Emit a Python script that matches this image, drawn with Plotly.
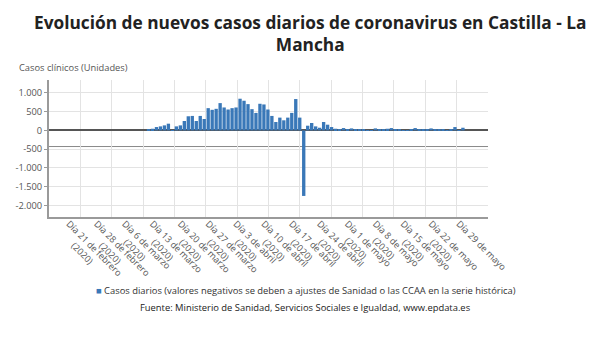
import plotly.graph_objects as go
import pandas as pd

# Datos: casos diarios desde el 12 de marzo de 2020
fecha_inicio = "2020-03-12"
casos = [27, 45, 90, 108, 135, 180, 10, 108, 135, 252, 378, 387, 252, 387, 306,
         595, 550, 577, 730, 613, 559, 595, 613, 847, 793, 703, 568, 468, 712, 694,
         559, 387, 225, 342, 270, 342, 468, 838, 342, -1750,
         126, 198, 108, 72, 225, 153, 90, 45, 27, 63, 36, 54, 36, 27, 27, 9, 9, 54,
         27, 27, 45, 63, 36, 27, 9, 9, 36, 63, 27, 27, 18, 54, 36, 36, 18, 9, 27,
         90, 9, 72]
fechas = pd.date_range(fecha_inicio, periods=len(casos), freq="D")

tick_fechas = ["2020-02-21", "2020-02-28", "2020-03-06", "2020-03-13", "2020-03-20",
               "2020-03-27", "2020-04-03", "2020-04-10", "2020-04-17", "2020-04-24",
               "2020-05-01", "2020-05-08", "2020-05-15", "2020-05-22", "2020-05-29"]
tick_linea1 = ["Día 21 de febrero", "Día 28 de febrero", "Día 6 de marzo",
               "Día 13 de marzo", "Día 20 de marzo", "Día 27 de marzo",
               "Día 3 de abril", "Día 10 de abril", "Día 17 de abril",
               "Día 24 de abril", "Día 1 de mayo", "Día 8 de mayo",
               "Día 15 de mayo", "Día 22 de mayo", "Día 29 de mayo"]
tick_linea2 = ["(2020)"] * 14 + [""]

y_ticks = [-2000, -1500, -1000, -500, 0, 500, 1000]
y_textos = ["-2.000", "-1.500", "-1.000", "-500", "0", "500", "1.000"]

titulo = "Evolución de nuevos casos diarios de coronavirus en Castilla - La<br>Mancha"
serie = "Casos diarios (valores negativos se deben a ajustes de Sanidad o las CCAA en la serie histórica)"
fuente = "Fuente: Ministerio de Sanidad, Servicios Sociales e Igualdad, www.epdata.es"
eje_y = "Casos clínicos (Unidades)"

FONT = "Open Sans"
GRIS = "#555555"
AZUL = "#3A78B8"

# second line of each tick label shifted under the middle of the first one (nbsp padding)
tick_textos = []
for l1, l2 in zip(tick_linea1, tick_linea2):
    if l2:
        pad = max(0, round((len(l1) * 4.3 - 28) / 2 / 2.9))
        tick_textos.append(l1 + "<br>" + "\u00a0" * pad + l2)
    else:
        tick_textos.append(l1)

dia = pd.Timedelta(days=1)
x0 = pd.Timestamp("2020-02-21")
x_range = [x0 - 5 * dia, x0 + 105.3 * dia]

L, R, T, B = 49, 122, 80, 141
W, H = 610, 358
PW, PH = W - L - R, H - T - B


def px(xp):
    return (xp - L) / PW


def py(yp):
    return (H - B - yp) / PH


fig = go.Figure()
fig.add_trace(go.Bar(x=fechas, y=casos, marker_color=AZUL, marker_line_width=0,
                     name=serie, showlegend=False))

fig.add_shape(type="line", xref="paper", x0=0, x1=1, yref="y", y0=-430, y1=-430,
              line=dict(color="#8a8a8a", width=1), layer="below")

fig.update_layout(
    width=W, height=H,
    margin=dict(l=L, r=R, t=T, b=B),
    paper_bgcolor="white", plot_bgcolor="white",
    bargap=0.16,
    font=dict(family=FONT, color=GRIS, size=9.3),
    showlegend=False,
    xaxis=dict(
        type="date", range=x_range, automargin=False,
        tickmode="array", tickvals=tick_fechas, ticktext=tick_textos,
        tickangle=45, tickfont=dict(family=FONT, size=9.1, color=GRIS),
        ticklabelstandoff=-4,
        showgrid=False, ticks="",
        showline=True, linecolor="#9a9a9a", linewidth=2,
        minor=dict(showgrid=True, gridcolor="#e3e3e3", gridwidth=1,
                   tick0=x0 - 5 * dia, dtick=7.88 * 86400000, ticks=""),
    ),
    yaxis=dict(
        range=[-2313, 1347], automargin=False,
        tickmode="array", tickvals=y_ticks, ticktext=y_textos,
        tickfont=dict(family=FONT, size=9.3, color=GRIS),
        showgrid=True, gridcolor="#e3e3e3", gridwidth=1,
        zeroline=True, zerolinecolor="#555555", zerolinewidth=1.5,
        showline=True, linecolor="#9a9a9a", linewidth=2,
        ticks="outside", ticklen=3, tickcolor="#9a9a9a",
    ),
)

fig.add_annotation(text="<b>" + titulo + "</b>", xref="paper", yref="paper",
                   x=px(310.5), y=py(34), xanchor="center", yanchor="middle",
                   showarrow=False, align="center",
                   font=dict(family=FONT, size=17.3, color="#222222"))
fig.add_annotation(text=eje_y, xref="paper", yref="paper",
                   x=px(17), y=py(67), xanchor="left", yanchor="middle",
                   showarrow=False, font=dict(family=FONT, size=9.3, color=GRIS))
fig.add_annotation(text="<span style='color:%s'>■</span> %s" % (AZUL, serie),
                   xref="paper", yref="paper", x=px(306), y=py(290),
                   xanchor="center", yanchor="middle", showarrow=False,
                   font=dict(family=FONT, size=9.4, color="#333333"))
fig.add_annotation(text=fuente, xref="paper", yref="paper", x=px(305), y=py(307),
                   xanchor="center", yanchor="middle", showarrow=False,
                   font=dict(family=FONT, size=9.4, color="#222222"))

fig.write_html("out.html", config={"displayModeBar": False},
               post_script="document.body.style.margin='0';document.body.style.padding='0';")
